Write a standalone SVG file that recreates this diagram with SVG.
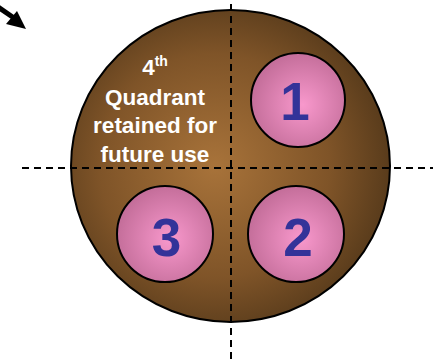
<svg xmlns="http://www.w3.org/2000/svg" width="433" height="362" viewBox="0 0 433 362">
<defs>
<radialGradient id="brown" cx="0.45" cy="0.5" r="0.6">
<stop offset="0" stop-color="#a8733a"/>
<stop offset="0.6" stop-color="#7f5428"/>
<stop offset="1" stop-color="#4f3518"/>
</radialGradient>
<radialGradient id="pink" cx="0.55" cy="0.55" r="0.55">
<stop offset="0" stop-color="#f898cc"/>
<stop offset="1" stop-color="#c46e9a"/>
</radialGradient>
<style>
.well{fill:url(#pink);stroke:#000;stroke-width:2}
.num{font-family:"Liberation Sans",Arial,sans-serif;font-weight:bold;font-size:53px;fill:#333399;text-anchor:middle}
.lbl{font-family:"Liberation Sans",Arial,sans-serif;font-weight:bold;font-size:22.5px;fill:#fff;text-anchor:middle}
.dash{stroke:#000;stroke-width:2;stroke-dasharray:7 5;fill:none}
</style>
</defs>
<rect width="433" height="362" fill="#fff"/>
<g id="plate">
<ellipse cx="230.5" cy="166" rx="159.5" ry="156" fill="url(#brown)" stroke="#000" stroke-width="2"/>
</g>
<g id="quadrant4">
<text class="lbl" x="155" y="75">4<tspan font-size="14" dy="-9">th</tspan></text>
<text class="lbl" x="155" y="105">Quadrant</text>
<text class="lbl" x="155" y="133">retained for</text>
<text class="lbl" x="155" y="162">future use</text>
</g>
<g id="well1">
<circle class="well" cx="298" cy="100" r="47"/>
<text class="num" x="295" y="120">1</text>
</g>
<g id="well2">
<circle class="well" cx="296" cy="234" r="48"/>
<text class="num" x="298" y="256">2</text>
</g>
<g id="well3">
<circle class="well" cx="165" cy="234" r="48"/>
<text class="num" x="166.5" y="256">3</text>
</g>
<g id="connectors">
<line class="dash" x1="22" y1="168" x2="433" y2="168"/>
<line class="dash" x1="231" y1="4" x2="231" y2="362"/>
<line x1="-2" y1="7" x2="14" y2="18" stroke="#000" stroke-width="5"/>
<polygon points="26,29 17,11 6,24" fill="#000"/>
</g>
</svg>
